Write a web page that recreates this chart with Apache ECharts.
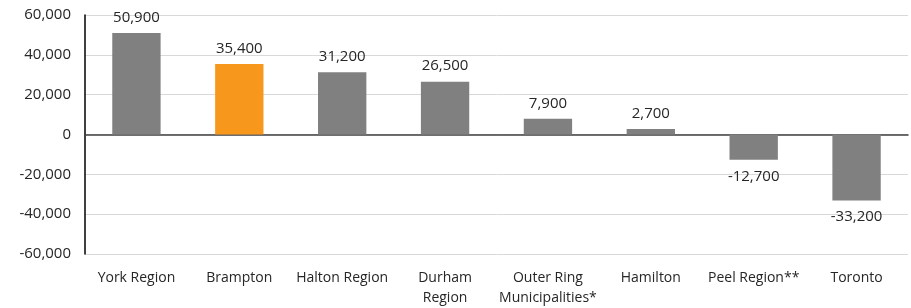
<!DOCTYPE html>
<html>
<head>
<meta charset="utf-8">
<script src="https://cdn.jsdelivr.net/npm/echarts@6/dist/echarts.min.js"></script>
<style>
  html, body { margin: 0; padding: 0; background: #fff; }
  #chart { width: 911px; height: 308px; }
</style>
</head>
<body>
<div id="chart"></div>
<script>
const categories = ['York Region', 'Brampton', 'Halton Region', 'Durham\nRegion', 'Outer Ring\nMunicipalities*', 'Hamilton', 'Peel Region**', 'Toronto']
const values = [50900, 35400, 31200, 26500, 7900, 2700, -12700, -33200]
const highlight = 'Brampton'

const chart = echarts.init(document.getElementById('chart'))

const fontFamily = '"Open Sans", sans-serif'
const textColor = '#262626'

chart.setOption({
  animation: false,
  grid: { left: 85, right: 3, top: 15, bottom: 51 },
  xAxis: {
    type: 'category',
    data: categories,
    axisLine: { onZero: true, lineStyle: { color: '#404040', width: 1.5 } },
    axisTick: { show: false },
    axisLabel: {
      color: textColor,
      fontFamily: fontFamily,
      fontSize: 14,
      margin: 14,
      lineHeight: 20,
      interval: 0,
      verticalAlign: 'top'
    }
  },
  yAxis: {
    type: 'value',
    min: -60000,
    max: 60000,
    interval: 20000,
    axisLine: { show: true, lineStyle: { color: '#000', width: 1.5 } },
    axisTick: { show: false },
    splitLine: { lineStyle: { color: '#d9d9d9', width: 1 } },
    axisLabel: {
      color: textColor,
      fontFamily: fontFamily,
      fontSize: 15,
      margin: 14,
      formatter: v => v.toLocaleString('en-US')
    }
  },
  series: [{
    type: 'bar',
    barWidth: '47%',
    data: values.map((v, i) => ({
      value: v,
      itemStyle: { color: categories[i] === highlight ? '#f7981d' : '#808080' },
      label: { position: v >= 0 ? 'top' : 'bottom', distance: v >= 0 ? 8 : 9 }
    })),
    label: {
      show: true,
      color: textColor,
      fontFamily: fontFamily,
      fontSize: 15,
      formatter: p => p.value.toLocaleString('en-US')
    }
  }]
})
</script>
</body>
</html>
